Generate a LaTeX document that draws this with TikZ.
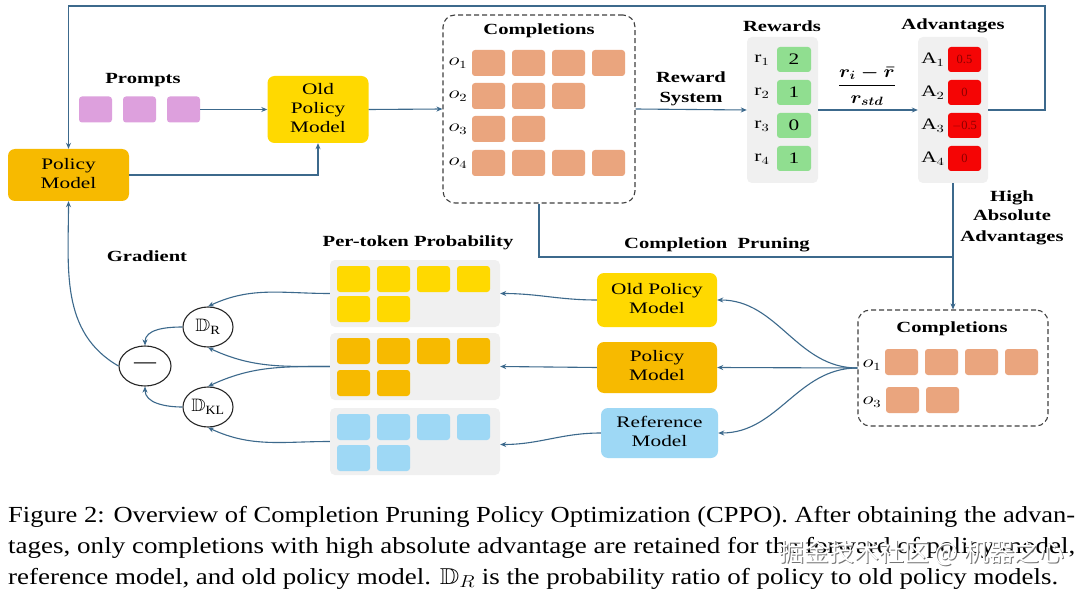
\documentclass[tikz,border=0pt]{standalone}
\usepackage{fontspec}
\setmainfont{Liberation Serif}
\newfontfamily\cjk{Noto Sans CJK SC}
\usepackage{amssymb,bm}
\usetikzlibrary{arrows.meta,shapes.geometric}
\definecolor{lc}{RGB}{60,105,140}
\definecolor{pmc}{RGB}{247,186,0}
\definecolor{opc}{RGB}{255,217,0}
\definecolor{pinkc}{RGB}{221,160,221}
\definecolor{tokc}{RGB}{234,165,126}
\definecolor{panelc}{RGB}{240,240,240}
\definecolor{grn}{RGB}{144,222,144}
\definecolor{redb}{RGB}{245,5,5}
\definecolor{redt}{RGB}{140,0,0}
\definecolor{blu}{RGB}{158,216,245}
\newcommand\sx[1]{\scalebox{1.33}[1]{#1}}
\newcommand\ml[1]{\begin{tabular}{@{}c@{}}#1\end{tabular}}
\newcommand\tk[5]{\fill[#1,rounded corners=3pt] (#2,#3) rectangle (#4,#5);}
\newlength\fitl
\newcommand\fitw[2]{\settowidth\fitl{#2}\pgfmathsetmacro\fitsc{#1/\the\fitl}\scalebox{\fitsc}[1]{#2}}
\begin{document}
\begin{tikzpicture}[x=1pt,y=-1pt,
 ln/.style={draw=lc,line width=1.1pt},
 arr/.style={ln,-{Stealth[length=6pt,width=5pt]}},
 box/.style={rounded corners=7pt,inner sep=0pt,align=center,font=\fontsize{16}{19}\selectfont},
 panelbox/.style={fill=panelc,rounded corners=5pt,inner sep=0pt},
 dashbox/.style={draw=black!75,line width=1.1pt,rounded corners=12pt,inner sep=0pt,dash pattern=on 5pt off 3pt},
 circ/.style={ellipse,draw=black!85,line width=1.1pt,inner sep=0pt,fill=white,font=\fontsize{18}{20}\selectfont},
 lbl/.style={inner sep=0pt,font=\bfseries\fontsize{15.5}{20}\selectfont},
 txt/.style={inner sep=0pt,font=\fontsize{16}{19}\selectfont},
 small/.style={inner sep=0pt,font=\fontsize{12.5}{13}\selectfont,text=redt},
 capline/.style={anchor=base west,inner sep=0pt},
 wm/.style={anchor=west,inner sep=0pt,font=\cjk\fontsize{25}{25}\selectfont},
]
\useasboundingbox (0,0) rectangle (1080,591);
\fill[white] (0,0) rectangle (1080,591);

% ---------- upper part ----------
\node[box,fill=pmc,minimum width=121pt,minimum height=52pt] (pm) at (68.5,175) {\sx{\ml{Policy\\Model}}};
\node[box,fill=opc,minimum width=101pt,minimum height=67pt] (opm) at (318,109.5) {\sx{\ml{Old\\Policy\\Model}}};

\node[lbl] (lprompt) at (143,80) {\sx{Prompts}};
\node[fill=pinkc,rounded corners=3pt,minimum width=33pt,minimum height=26pt,inner sep=0] (p1) at (95.5,109.5) {};
\node[fill=pinkc,rounded corners=3pt,minimum width=33pt,minimum height=26pt,inner sep=0] (p2) at (139.5,109.5) {};
\node[fill=pinkc,rounded corners=3pt,minimum width=33pt,minimum height=26pt,inner sep=0] (p3) at (183.5,109.5) {};

\node[dashbox,minimum width=192pt,minimum height=188pt] (comp) at (539,109) {};
\node[lbl] at (539,31) {\sx{Completions}};
\foreach \y/\n/\c in {50/1/4,83/2/3,116/3/2,150/4/4}{
  \node[txt] at (458,\y+13) {\sx{$o_{\n}$}};
  \foreach \i in {1,...,\c}{
    \pgfmathsetmacro\xa{472+40*(\i-1)}
    \tk{tokc}{\xa}{\y}{\xa+33}{\y+26}
  }
}

\node[lbl] at (691,89) {\sx{\ml{Reward\\System}}};

\node[panelbox,minimum width=71pt,minimum height=146pt] (rew) at (782.5,110) {};
\node[lbl] at (782,26) {\sx{Rewards}};
\foreach \y/\n/\v in {47/1/2,80/2/1,113/3/0,146/4/1}{
  \tk{grn}{777}{\y}{811}{\y+25}
  \node[txt] at (762,\y+13) {\sx{$\mathrm{r}_{\n}$}};
  \node[txt] at (794,\y+12.5) {\sx{\v}};
}

\node[inner sep=0pt,font=\fontsize{18}{20}\selectfont] (frac) at (867,86) {\scalebox{1.15}[1]{$\displaystyle\bm{\frac{r_i-\bar{r}}{r_{std}}}$}};

\node[panelbox,minimum width=70pt,minimum height=146pt] (adv) at (953,110) {};
\node[lbl] at (953,26) {\sx{Advantages}};
\foreach \y/\n/\v in {47/1/0.5,80/2/0,113/3/$-$0.5,146/4/0}{
  \tk{redb}{948}{\y}{981}{\y+25}
  \node[txt] at (933,\y+13) {\sx{$\mathrm{A}_{\n}$}};
  \node[small] at (964.5,\y+12.5) {\v};
}

\node[lbl] at (1012,217) {\sx{\ml{High\\Absolute\\Advantages}}};
\node[lbl] at (717,245) {\sx{Completion\ \ Pruning}};

% ---------- lower part ----------
\node[dashbox,minimum width=190pt,minimum height=116pt] (lc) at (953,368) {};
\node[lbl] at (952,329) {\sx{Completions}};
\node[txt] at (872,365) {\sx{$o_1$}};
\node[txt] at (872,402) {\sx{$o_3$}};
\foreach \x in {885,925,965,1005}{\tk{tokc}{\x}{349}{\x+33}{375}}
\foreach \x in {886,926}{\tk{tokc}{\x}{387}{\x+33}{413}}

\node[box,fill=opc,minimum width=120pt,minimum height=54pt] (lop) at (657,300) {\sx{\ml{Old Policy\\Model}}};
\node[box,fill=pmc,minimum width=120pt,minimum height=51pt] (lpm) at (657,367.5) {\sx{\ml{Policy\\Model}}};
\node[box,fill=blu,minimum width=117pt,minimum height=50pt] (lref) at (659.5,433) {\sx{\ml{Reference\\Model}}};

\node[lbl] at (418,243) {\sx{Per-token Probability}};
\node[panelbox,minimum width=170pt,minimum height=67pt] (pa) at (415,293.5) {};
\node[panelbox,minimum width=170pt,minimum height=67pt] (pb) at (415,366.5) {};
\node[panelbox,minimum width=170pt,minimum height=67pt] (pc) at (415,441.5) {};
\foreach \col/\ya/\yb in {opc/266/296,pmc/338/370,blu/414/445}{
  \foreach \x in {337,377,417,457}{\tk{\col}{\x}{\ya}{\x+33}{\ya+26}}
  \foreach \x in {337,377}{\tk{\col}{\x}{\yb}{\x+33}{\yb+26}}
}

\node[circ,minimum width=50pt,minimum height=40pt] (dr) at (208,327) {\scalebox{1.15}[1]{$\mathbb{D}_{\mathrm{R}}$}};
\node[circ,minimum width=52pt,minimum height=40pt] (mn) at (145,366) {\fontsize{22}{22}\selectfont ---};
\node[circ,minimum width=50pt,minimum height=40pt] (dkl) at (208,407) {\scalebox{1.1}[1]{$\mathbb{D}_{\mathrm{KL}}$}};
\node[lbl] at (147,256) {\sx{Gradient}};

% ---------- connectors ----------
\coordinate (tr) at (1045,6);
\coordinate (jn) at (953,257);
\draw[arr] (adv.east) -| (tr) -| (pm.north);
\draw[arr] (p3.east) -- (opm.west);
\draw[arr] (pm.east) -| (opm.south);
\draw[arr] (opm.east) -- (comp.west);
\draw[arr] (comp.east) -- (rew.west);
\draw[arr] (rew.east) -- (adv.west);
\draw[arr] (adv.south) -- (lc.north);
\draw[ln] (comp.south) |- (jn);

\draw[arr] (lc.west) to[out=180,in=0] (lop.east);
\draw[arr] (lc.west) -- (lpm.east);
\draw[arr] (lc.west) to[out=180,in=0] (lref.east);
\draw[arr] (lop.west) to[out=180,in=0] (pa.east);
\draw[arr] (lpm.west) -- (pb.east);
\draw[arr] (lref.west) to[out=180,in=0] ([yshift=-3pt]pc.east);

\draw[arr] (pa.west) to[out=180,in=25] (dr.north);
\draw[arr] (pb.west) to[out=180,in=-25] (dr.south);
\draw[arr] (pb.west) to[out=180,in=25] (dkl.north);
\draw[arr] (pc.west) to[out=180,in=-25] (dkl.south);
\draw[arr] (dr.west) to[out=180,in=90] (mn.north);
\draw[arr] (dkl.west) to[out=180,in=-90] (mn.south);
\draw[arr] (mn.west) to[out=150,in=-90] (pm.south);

% ---------- caption ----------
\node[capline] (cap1) at (8,522) {\fitw{1067}{\fontsize{23}{23}\selectfont Figure 2: Overview of Completion Pruning Policy Optimization (CPPO). After obtaining the advan-}};
\node[capline] (cap2) at (8,553) {\fitw{1067}{\fontsize{23}{23}\selectfont tages, only completions with high absolute advantage are retained for the forward of policy model,}};
\node[capline] (cap3) at (8,584) {\fitw{1050}{\fontsize{23}{23}\selectfont reference model, and old policy model. $\mathbb{D}_R$ is the probability ratio of policy to old policy models.}};
\node[wm,text=black!55] (wm1) at (780,554) {掘金技术社区 @ 机器之心};
\node[wm,text=white] (wm2) at (779,553) {掘金技术社区 @ 机器之心};
\end{tikzpicture}
\end{document}
